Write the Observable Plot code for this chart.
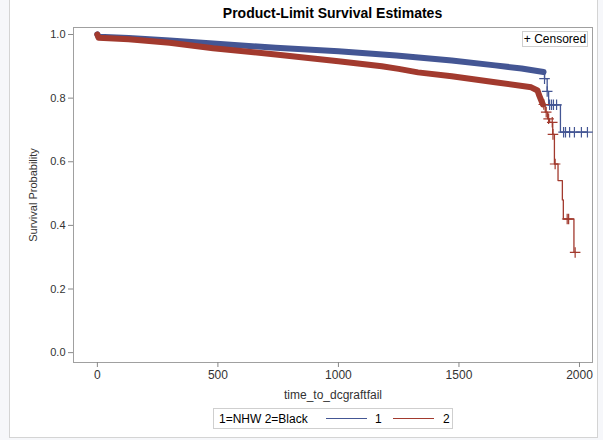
<!DOCTYPE html>
<html><head><meta charset="utf-8">
<script src="https://cdn.jsdelivr.net/npm/d3@7"></script>
<script src="https://cdn.jsdelivr.net/npm/@observablehq/plot@0.6"></script>
<style>
body{margin:0;background:#f6f7fa;font-family:"Liberation Sans",Arial,sans-serif;}
#wrap{position:relative;width:603px;height:440px;overflow:hidden;}
#panel{position:absolute;left:9px;top:-2px;width:589px;height:440px;border:1px solid #d4d4d4;background:#fff;box-sizing:border-box;}
#chart{position:absolute;left:0;top:0;}
#title{position:absolute;left:73px;width:519px;top:5px;text-align:center;font-weight:bold;font-size:14px;color:#000;}
#cens{position:absolute;left:522px;top:31px;width:66px;height:16px;border:1px solid #cfcfcf;box-sizing:border-box;font-size:12px;line-height:14px;text-align:center;background:#fff;color:#000;}
#legend{position:absolute;left:213px;top:408px;width:240px;height:21px;border:1px solid #cfcfcf;box-sizing:border-box;font-size:12px;color:#000;}
#legend span{position:absolute;top:3px;}
#legend b{position:absolute;top:9px;height:1px;width:41px;display:block;}
</style></head>
<body><div id="wrap"><div id="panel"></div><div id="chart"></div>
<div id="title">Product-Limit Survival Estimates</div>
<div id="cens">+ Censored</div>
<div id="legend"><span style="left:5px">1=NHW 2=Black</span><b style="left:112px;background:#445694"></b><span style="left:161px">1</span><b style="left:179px;background:#A23A2E"></b><span style="left:229px">2</span></div>
</div>
<script>
// Group 1 (NHW) Kaplan-Meier estimate
const time1 = [0, 5, 130, 300, 480, 740, 1000, 1240, 1470, 1650, 1760, 1851, 1855, 1866, 1872, 1921, 2033];
const surv1 = [1.0, 0.993, 0.989, 0.981, 0.972, 0.958, 0.947, 0.934, 0.918, 0.903, 0.893, 0.882, 0.861, 0.821, 0.779, 0.693, 0.693];
const bandEnd1 = 1851;
const cens1Time = [1855, 1866, 1876, 1884, 1892, 1905, 1934, 1942, 1959, 1979, 2008, 2033];
const cens1Surv = [0.861, 0.821, 0.779, 0.779, 0.779, 0.779, 0.693, 0.693, 0.693, 0.693, 0.693, 0.693];
// Group 2 (Black)
const time2 = [0, 5, 130, 300, 480, 740, 1000, 1180, 1250, 1330, 1470, 1650, 1800, 1826, 1832, 1840, 1848, 1858, 1868, 1876, 1889, 1896, 1911, 1929, 1933, 1977, 1983];
const surv2 = [1.0, 0.990, 0.985, 0.974, 0.957, 0.937, 0.916, 0.900, 0.892, 0.881, 0.869, 0.850, 0.834, 0.824, 0.81, 0.795, 0.78, 0.756, 0.735, 0.724, 0.686, 0.593, 0.541, 0.480, 0.420, 0.315, 0.315];
const bandEnd2 = 1848;
const cens2Time = [1852, 1862, 1872, 1887, 1890, 1899, 1949, 1955, 1982];
const cens2Surv = [0.78, 0.756, 0.735, 0.724, 0.686, 0.593, 0.42, 0.42, 0.315];
const xTicks = [0, 500, 1000, 1500, 2000];
const yTicks = [0.0, 0.2, 0.4, 0.6, 0.8, 1.0];
const groups = ["1", "2"];
const colors = ["#445694", "#A23A2E"];

const curve = (t, s, g) => t.map((d, i) => ({time: d, surv: s[i], group: g}));
const c1 = curve(time1, surv1, "1"), c2 = curve(time2, surv2, "2");
const k1 = curve(cens1Time, cens1Surv, "1"), k2 = curve(cens2Time, cens2Surv, "2");

const plot = Plot.plot({
  width: 603, height: 440,
  marginLeft: 73, marginRight: 11, marginTop: 27, marginBottom: 78,
  style: {background: "transparent", fontFamily: "Liberation Sans, Arial, sans-serif", fontSize: "11px", color: "#333"},
  x: {domain: [-99, 2054]},
  y: {domain: [-0.031, 1.022]},
  color: {domain: groups, range: colors},
  marks: [
    Plot.frame({stroke: "#a0a0a0"}),
    Plot.axisY({ticks: yTicks, tickFormat: d3.format(".1f"), tickSize: 5, tickPadding: 3, stroke: "#888", fill: "#333",
      label: "Survival Probability", labelAnchor: "center", labelOffset: 44, labelArrow: "none", fontSize: 11}),
    Plot.axisX({ticks: xTicks, tickFormat: d => String(d), tickSize: 5, tickPadding: 3, stroke: "#888", fill: "#333",
      label: "time_to_dcgraftfail", labelAnchor: "center", labelOffset: 36, labelArrow: "none", fontSize: 12}),
    Plot.line(c1.filter(d => d.time <= bandEnd1), {x: "time", y: "surv", stroke: "group", strokeWidth: 6}),
    Plot.line(c1.filter(d => d.time >= bandEnd1), {x: "time", y: "surv", stroke: "group", strokeWidth: 1.3, curve: "step-after"}),
    Plot.dot(k1, {x: "time", y: "surv", stroke: "group", symbol: "plus", r: 3.5, strokeWidth: 1.2}),
    Plot.line(c2.filter(d => d.time <= bandEnd2), {x: "time", y: "surv", stroke: "group", strokeWidth: 6}),
    Plot.line(c2.filter(d => d.time >= bandEnd2), {x: "time", y: "surv", stroke: "group", strokeWidth: 1.3, curve: "step-after"}),
    Plot.dot(k2, {x: "time", y: "surv", stroke: "group", symbol: "plus", r: 3.5, strokeWidth: 1.2})
  ]
});
document.getElementById("chart").appendChild(plot);
</script>
</body></html>
